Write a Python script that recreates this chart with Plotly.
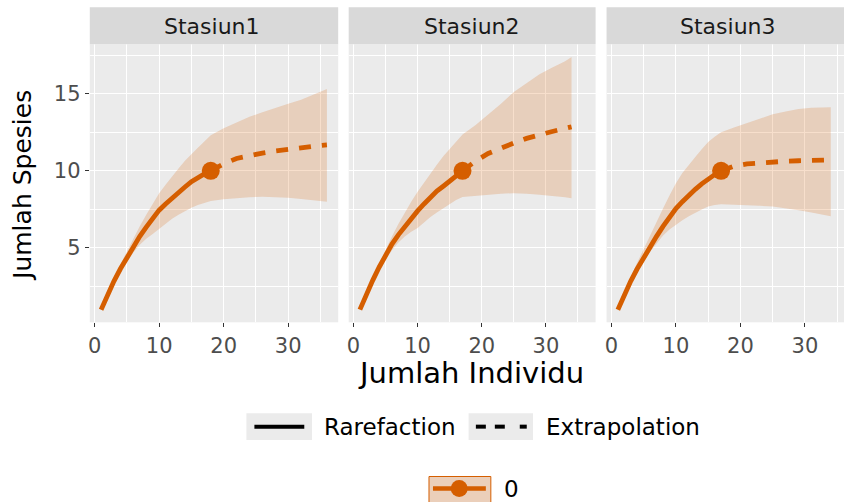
import plotly.graph_objects as go

# ---------------- data ----------------
stations = ["Stasiun1", "Stasiun2", "Stasiun3"]

s1_m_rare = [1, 2, 3, 4, 5, 6, 7, 8, 9, 10, 11, 12, 13, 14, 15, 16, 17, 18]
s1_rare = [1.0, 1.95, 2.85, 3.65, 4.4, 5.1, 5.75, 6.35, 6.9, 7.45, 7.85, 8.25, 8.6, 8.95, 9.3, 9.57, 9.8, 10.0]
s1_m_ext = [18, 20, 22, 24, 26, 28, 30, 32, 34, 36]
s1_ext = [10.0, 10.45, 10.8, 11.0, 11.15, 11.28, 11.4, 11.5, 11.6, 11.68]
s1_lcl = [1.0, 1.85, 2.7, 3.45, 4.1, 4.7, 5.2, 5.6, 5.9, 6.2, 6.55, 6.9, 7.15, 7.4, 7.6, 7.78, 7.92, 8.05,
          8.15, 8.22, 8.28, 8.32, 8.3, 8.25, 8.18, 8.1, 8.0]
s1_ucl = [1.0, 2.05, 3.05, 3.95, 4.8, 5.6, 6.4, 7.15, 7.85, 8.55, 9.1, 9.65, 10.15, 10.65, 11.1, 11.5, 11.9, 12.3,
          12.75, 13.15, 13.5, 13.8, 14.1, 14.35, 14.6, 14.95, 15.3]

s2_m_rare = [1, 2, 3, 4, 5, 6, 7, 8, 9, 10, 11, 12, 13, 14, 15, 16, 17]
s2_rare = [1.0, 2.0, 2.9, 3.75, 4.55, 5.25, 5.85, 6.4, 6.9, 7.4, 7.85, 8.28, 8.68, 9.0, 9.32, 9.65, 10.0]
s2_m_ext = [17, 19, 21, 23, 25, 27, 29, 31, 33, 34]
s2_ext = [10.0, 10.62, 11.12, 11.5, 11.8, 12.1, 12.35, 12.55, 12.75, 12.85]
s2_lcl = [1.0, 1.9, 2.75, 3.55, 4.25, 4.85, 5.35, 5.75, 6.05, 6.3, 6.65, 7.0, 7.3, 7.6, 7.85, 8.1, 8.3,
          8.35, 8.45, 8.52, 8.55, 8.52, 8.45, 8.38, 8.28, 8.22]
s2_ucl = [1.0, 2.1, 3.1, 4.0, 4.9, 5.75, 6.55, 7.3, 8.0, 8.65, 9.25, 9.85, 10.4, 10.95, 11.43, 11.9, 12.35,
          12.95, 13.63, 14.35, 15.1, 15.7, 16.25, 16.7, 17.1, 17.38]

s3_m_rare = [1, 2, 3, 4, 5, 6, 7, 8, 9, 10, 11, 12, 13, 14, 15, 16, 17]
s3_rare = [1.0, 1.95, 2.85, 3.65, 4.4, 5.1, 5.75, 6.4, 7.0, 7.55, 8.0, 8.45, 8.8, 9.15, 9.48, 9.75, 10.0]
s3_m_ext = [17, 19, 21, 23, 25, 27, 29, 31, 33, 34]
s3_ext = [10.0, 10.3, 10.45, 10.53, 10.58, 10.62, 10.65, 10.67, 10.69, 10.7]
s3_lcl = [1.0, 1.85, 2.65, 3.4, 4.1, 4.75, 5.3, 5.8, 6.2, 6.5, 6.8, 7.05, 7.3, 7.5, 7.68, 7.78, 7.84,
          7.82, 7.78, 7.73, 7.68, 7.58, 7.45, 7.3, 7.12, 7.05]
s3_ucl = [1.0, 2.1, 3.1, 4.05, 4.95, 5.85, 6.7, 7.55, 8.4, 9.2, 9.85, 10.4, 10.9, 11.4, 11.86, 12.2, 12.5,
          12.8, 13.1, 13.4, 13.67, 13.85, 14.0, 14.08, 14.1, 14.12]

x_ticks = [0, 10, 20, 30]
y_ticks = [5, 10, 15]

series = [
    (s1_m_rare, s1_rare, s1_m_ext, s1_ext, s1_lcl, s1_ucl),
    (s2_m_rare, s2_rare, s2_m_ext, s2_ext, s2_lcl, s2_ucl),
    (s3_m_rare, s3_rare, s3_m_ext, s3_ext, s3_lcl, s3_ucl),
]

# ---------------- style ----------------
W, H = 844, 502
ORANGE = "#D55E00"
BAND = "rgba(213,94,0,0.2)"
FONT = "DejaVu Sans"


def px(x):
    return x / W


def py(y):
    return 1 - y / H


panels_px = [(88, 337), (347.5, 595), (606, 844)]
panel_top, panel_bot = 44.3, 322.3
strip_top = 7.3
strip_centers = [210, 471, 728]

# shared scales (ggplot-like 5% expansion)
all_x = [v for s in series for v in s[0] + s[2]]
all_y = [v for s in series for v in s[4] + s[5]]
xmin, xmax = min(all_x), max(all_x)
ymin, ymax = min(all_y), max(all_y)
xlo, xhi = xmin - 0.05 * (xmax - xmin), xmax + 0.05 * (xmax - xmin)
ylo, yhi = ymin - 0.05 * (ymax - ymin), ymax + 0.05 * (ymax - ymin)
unit_px = (panels_px[0][1] - panels_px[0][0]) / (xhi - xlo)

fig = go.Figure()
layout = dict(
    width=W, height=H, margin=dict(l=0, r=0, t=0, b=0),
    paper_bgcolor="white", plot_bgcolor="#EBEBEB", showlegend=False,
    font=dict(family=FONT),
)

for i, (mr, sr, me, se, lcl, ucl) in enumerate(series):
    sfx = "" if i == 0 else str(i + 1)
    xa, ya = "x" + sfx, "y" + sfx
    m_all = mr + me[1:]
    fig.add_trace(go.Scatter(
        x=m_all + m_all[::-1], y=ucl + lcl[::-1], fill="toself", fillcolor=BAND,
        line=dict(width=0), mode="lines", hoverinfo="skip", xaxis=xa, yaxis=ya))
    fig.add_trace(go.Scatter(x=mr, y=sr, mode="lines", line=dict(color=ORANGE, width=4.8),
                             xaxis=xa, yaxis=ya))
    fig.add_trace(go.Scatter(x=me, y=se, mode="lines",
                             line=dict(color=ORANGE, width=4.8, dash="12px,11px"),
                             xaxis=xa, yaxis=ya))
    fig.add_trace(go.Scatter(x=[mr[-1]], y=[sr[-1]], mode="markers",
                             marker=dict(color=ORANGE, size=18), xaxis=xa, yaxis=ya))

    x0, x1 = panels_px[i]
    rng_hi = xlo + (x1 - x0) / unit_px if i == 2 else xhi
    layout["xaxis" + sfx] = dict(
        domain=[px(x0), px(x1)], range=[xlo, rng_hi], anchor=ya,
        tickmode="array", tickvals=x_ticks, ticks="outside", ticklen=4, tickwidth=1.2,
        tickcolor="#333333", tickfont=dict(size=21, color="#4D4D4D", family=FONT),
        showgrid=True, gridcolor="white", gridwidth=1.3, zeroline=False, showline=False,
        minor=dict(dtick=5, tick0=0, showgrid=True, gridcolor="white", gridwidth=0.7),
    )
    layout["yaxis" + sfx] = dict(
        domain=[py(panel_bot), py(panel_top)], range=[ylo, yhi], anchor=xa,
        tickmode="array", tickvals=y_ticks, ticks="outside" if i == 0 else "",
        ticklen=4, tickwidth=1.2, tickcolor="#333333", showticklabels=(i == 0),
        tickfont=dict(size=21, color="#4D4D4D", family=FONT),
        showgrid=True, gridcolor="white", gridwidth=1.3, zeroline=False, showline=False,
        minor=dict(dtick=2.5, tick0=0, showgrid=True, gridcolor="white", gridwidth=0.7),
    )

shapes = []
annotations = []
for i, name in enumerate(stations):
    x0, x1 = panels_px[i]
    shapes.append(dict(type="rect", xref="paper", yref="paper", x0=px(x0), x1=px(x1),
                       y0=py(panel_top), y1=py(strip_top), fillcolor="#D9D9D9", line=dict(width=0)))
    annotations.append(dict(text=name, xref="paper", yref="paper", x=px(strip_centers[i]), y=py(27),
                            xanchor="center", yanchor="middle", showarrow=False,
                            font=dict(size=22, color="#1A1A1A", family=FONT)))

# axis titles
annotations.append(dict(text="Jumlah Individu", xref="paper", yref="paper", x=px(470), y=py(373),
                        xanchor="center", yanchor="middle", showarrow=False,
                        font=dict(size=29, color="black", family=FONT)))
annotations.append(dict(text="Jumlah Spesies", xref="paper", yref="paper", x=px(20), y=py(185),
                        xanchor="center", yanchor="middle", showarrow=False, textangle=-90,
                        font=dict(size=25, color="black", family=FONT)))

# linetype legend
ky0, ky1 = 413.3, 440
kyc = (ky0 + ky1) / 2
shapes.append(dict(type="rect", xref="paper", yref="paper", x0=px(245), x1=px(310.7),
                   y0=py(ky1), y1=py(ky0), fillcolor="#EBEBEB", line=dict(width=0)))
shapes.append(dict(type="line", xref="paper", yref="paper", x0=px(253), x1=px(303),
                   y0=py(kyc), y1=py(kyc), line=dict(color="black", width=4)))
shapes.append(dict(type="rect", xref="paper", yref="paper", x0=px(467.7), x1=px(532.3),
                   y0=py(ky1), y1=py(ky0), fillcolor="#EBEBEB", line=dict(width=0)))
for a, b in [(475, 485), (494, 504), (519, 526)]:
    shapes.append(dict(type="line", xref="paper", yref="paper", x0=px(a), x1=px(b),
                       y0=py(kyc), y1=py(kyc), line=dict(color="black", width=4)))
annotations.append(dict(text="Rarefaction", xref="paper", yref="paper", x=px(321), y=py(427),
                        xanchor="left", yanchor="middle", showarrow=False,
                        font=dict(size=23, color="black", family=FONT)))
annotations.append(dict(text="Extrapolation", xref="paper", yref="paper", x=px(543), y=py(427),
                        xanchor="left", yanchor="middle", showarrow=False,
                        font=dict(size=23, color="black", family=FONT)))

# colour legend
shapes.append(dict(type="rect", xref="paper", yref="paper", x0=px(428), x1=px(490),
                   y0=py(512), y1=py(476.5), fillcolor="#EBCFBA", line=dict(color=ORANGE, width=1)))
shapes.append(dict(type="line", xref="paper", yref="paper", x0=px(432), x1=px(485),
                   y0=py(488.5), y1=py(488.5), line=dict(color=ORANGE, width=4.5)))
shapes.append(dict(type="circle", xref="paper", yref="paper", x0=px(449.8), x1=px(466.8),
                   y0=py(497), y1=py(480), fillcolor=ORANGE, line=dict(width=0)))
annotations.append(dict(text="0", xref="paper", yref="paper", x=px(501), y=py(489),
                        xanchor="left", yanchor="middle", showarrow=False,
                        font=dict(size=23, color="black", family=FONT)))

layout["shapes"] = shapes
layout["annotations"] = annotations
fig.update_layout(**layout)
fig.write_html(
    "out.html",
    config={"displayModeBar": False},
    post_script="document.body.style.margin='0';document.body.style.overflow='hidden';",
)
